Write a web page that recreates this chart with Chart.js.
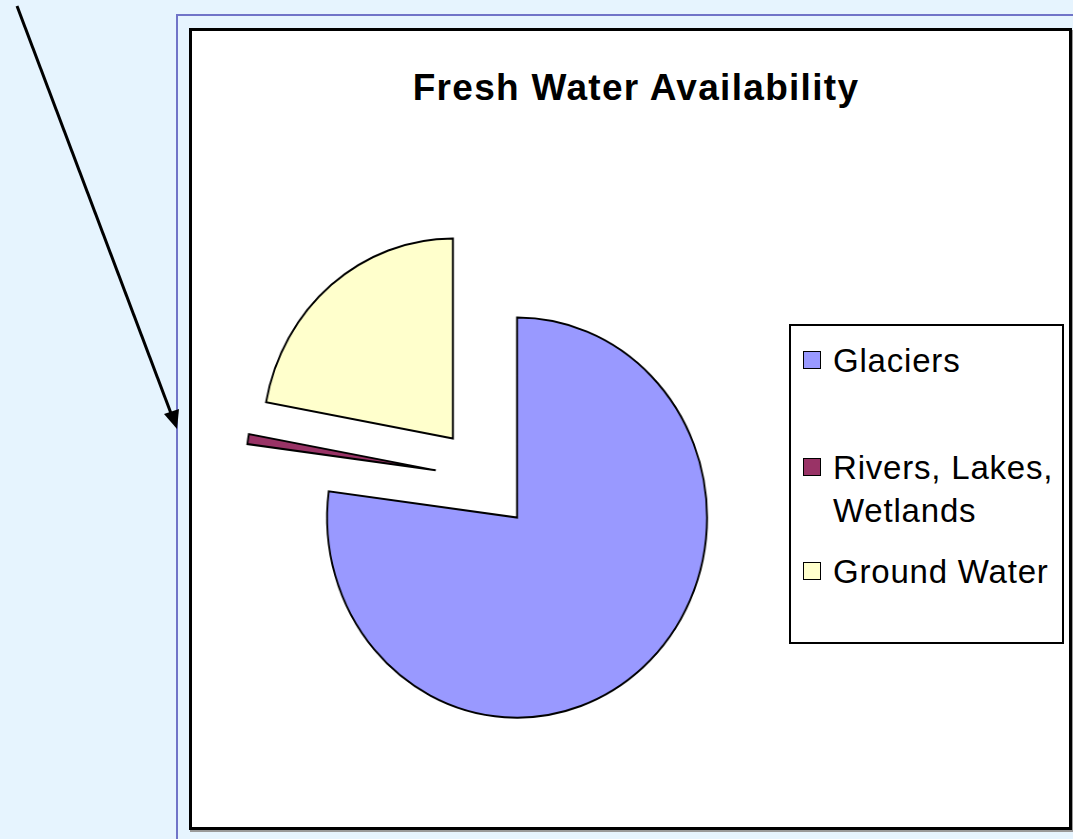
<!DOCTYPE html>
<html>
<head>
<meta charset="utf-8">
<script src="https://cdn.jsdelivr.net/npm/chart.js@4/dist/chart.umd.min.js"></script>
<style>
  html, body { margin: 0; padding: 0; }
  body { width: 1073px; height: 839px; background: #E6F4FE; position: relative; overflow: hidden; font-family: "Liberation Sans", Arial, sans-serif; }
  #frame { position: absolute; left: 176px; top: 14px; width: 1000px; height: 900px; border-left: 2px solid #7074C8; border-top: 2px solid #7074C8; background: #E6F4FE; }
  #box { position: absolute; left: 189px; top: 28px; width: 877px; height: 796px; border: 3px solid #000; background: #fff; box-shadow: 1px 2px 0 #9a9a9a; }
  #title { position: absolute; left: 331px; width: 610px; top: 66px; text-align: center; font-weight: bold; font-size: 37px; letter-spacing: 1.3px; line-height: 44px; color: #000; white-space: nowrap; }
  #pie { position: absolute; left: 204px; top: 98px; width: 561px; height: 761px; transform: scaleX(0.95); transform-origin: 50% 50%; }
  #legend { position: absolute; left: 789px; top: 324px; width: 271px; height: 316px; border: 2px solid #000; background: #fff; }
  .item { position: absolute; left: 12px; font-size: 33px; letter-spacing: 0.8px; line-height: 43px; color: #000; white-space: nowrap; }
  .sw { position: absolute; left: 0; width: 16px; height: 16px; border: 1px solid #000; }
  .lbl { position: absolute; left: 30px; }
  svg { position: absolute; left: 0; top: 0; }
</style>
</head>
<body>
<div id="frame"></div>
<div id="box"></div>
<div id="title">Fresh Water Availability</div>
<div id="pie"><canvas id="c"></canvas></div>
<div id="legend"></div>
<svg width="1073" height="839">
  <line x1="17" y1="6" x2="172" y2="416" stroke="#000" stroke-width="3"/>
  <polygon points="177,429 164,414 179,409" fill="#000"/>
</svg>
<script>
// ---- data ----
const categories = ["Glaciers", "Rivers, Lakes, Wetlands", "Ground Water"];
const legendLines = [["Glaciers"], ["Rivers, Lakes,", "Wetlands"], ["Ground Water"]];
const shares = [77.1, 0.8, 22.1];
const sliceColors = ["#9999FF", "#993366", "#FFFFCC"];

// explode every slice along its bisector (as in the original exploded pie)
const EXPLODE = 52;
const explodePlugin = {
  id: 'explode',
  afterDatasetUpdate(chart, args) {
    args.meta.data.forEach(arc => {
      const mid = (arc.startAngle + arc.endAngle) / 2;
      arc.x += Math.cos(mid) * EXPLODE;
      arc.y += Math.sin(mid) * EXPLODE;
    });
  }
};

new Chart(document.getElementById('c'), {
  type: 'pie',
  data: {
    labels: categories,
    datasets: [{
      data: shares,
      backgroundColor: sliceColors,
      borderColor: '#000',
      borderWidth: 2,
      borderJoinStyle: 'miter'
    }]
  },
  options: {
    responsive: true,
    maintainAspectRatio: false,
    animation: false,
    events: [],
    radius: 200,
    layout: { padding: 0 },
    plugins: { legend: { display: false }, title: { display: false }, tooltip: { enabled: false } }
  },
  plugins: [explodePlugin]
});

// legend (HTML text)
const legendTops = [13, 120, 224];
const legend = document.getElementById('legend');
legendLines.forEach((lines, i) => {
  const it = document.createElement('div');
  it.className = 'item';
  it.style.top = legendTops[i] + 'px';
  const sw = document.createElement('div');
  sw.className = 'sw';
  sw.style.background = sliceColors[i];
  sw.style.top = '12px';
  it.appendChild(sw);
  const lb = document.createElement('div');
  lb.className = 'lbl';
  lb.innerHTML = lines.join('<br>');
  it.appendChild(lb);
  legend.appendChild(it);
});
</script>
</body>
</html>
